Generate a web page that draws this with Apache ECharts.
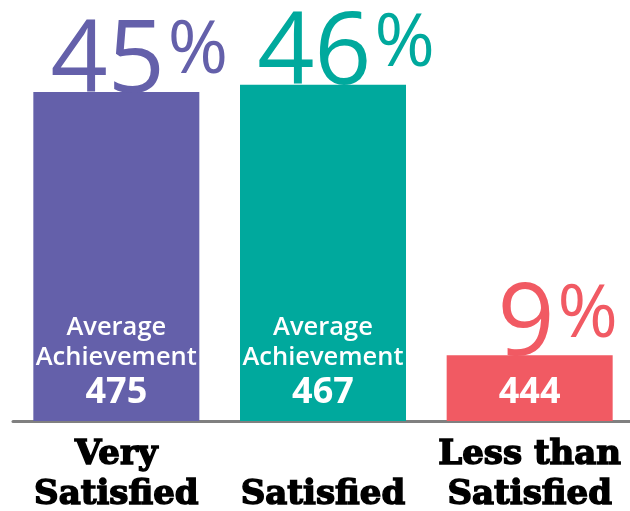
<!DOCTYPE html>
<html>
<head>
<meta charset="utf-8">
<script src="https://cdn.jsdelivr.net/npm/echarts@6/dist/echarts.min.js"></script>
<style>
html,body{margin:0;padding:0;background:#fff;}
#c{width:630px;height:511px;}
</style>
</head>
<body>
<div id="c"></div>
<script>
const categories = ['Very\nSatisfied', 'Satisfied', 'Less than\nSatisfied'];
const percentages = [45, 46, 9];
const avgAchievement = [475, 467, 444];
const captionLines = ['Average', 'Achievement'];
const colors = ['#6460AA', '#00A99D', '#F15A63'];

const chart = echarts.init(document.getElementById('c'), null, {renderer: 'canvas'});

const barData = percentages.map((v, i) => ({
  value: v,
  itemStyle: {color: colors[i]},
  label: {
    formatter: (v > 20 ? captionLines.map(t => '{a|' + t + '}').join('\n') + '\n' : '') + '{v|' + avgAchievement[i] + '}'
  }
}));

const topData = percentages.map((v, i) => ({
  value: v,
  label: {
    color: colors[i],
    offset: [String(v).length > 1 ? 23 : 28, 21],
    rich: {
      n: {fontSize: 100, lineHeight: 97, color: colors[i], fontFamily: 'Open Sans', verticalAlign: 'bottom'},
      p: {fontSize: 73, lineHeight: 97, color: colors[i], fontFamily: 'Open Sans', verticalAlign: 'top', padding: [0, 0, 0, 3]}
    }
  }
}));

chart.setOption({
  animation: false,
  grid: {left: 13, width: 620, top: 0, bottom: 90, outerBoundsMode: 'none', containLabel: false},
  xAxis: {
    type: 'category',
    data: categories,
    axisLine: {show: true, lineStyle: {color: '#808080', width: 3}},
    axisTick: {show: false},
    axisLabel: {
      interval: 0,
      color: '#000',
      fontFamily: 'DejaVu Serif',
      fontWeight: 'bold',
      fontSize: 34,
      lineHeight: 40,
      verticalAlign: 'bottom',
      margin: 94,
      textBorderColor: '#000',
      textBorderWidth: 1.5
    }
  },
  yAxis: {type: 'value', min: 0, max: 57.6, show: false, splitLine: {show: false}},
  series: [
    {
      type: 'bar',
      data: barData,
      barWidth: 166,
      z: 2,
      label: {
        show: true,
        position: 'insideBottom',
        distance: 8,
        color: '#fff',
        rich: {
          a: {fontSize: 25.5, lineHeight: 30, color: '#fff', fontWeight: 600, fontFamily: 'Open Sans'},
          v: {fontSize: 36, lineHeight: 40, color: '#fff', fontWeight: 'bold', fontFamily: 'Open Sans'}
        }
      }
    },
    {
      type: 'bar',
      data: topData,
      barWidth: 166,
      barGap: '-100%',
      z: 3,
      itemStyle: {color: 'rgba(0,0,0,0)'},
      label: {
        show: true,
        position: 'top',
        distance: 0,
        formatter: p => '{n|' + p.value + '}{p|%}'
      }
    }
  ]
});
</script>
</body>
</html>
